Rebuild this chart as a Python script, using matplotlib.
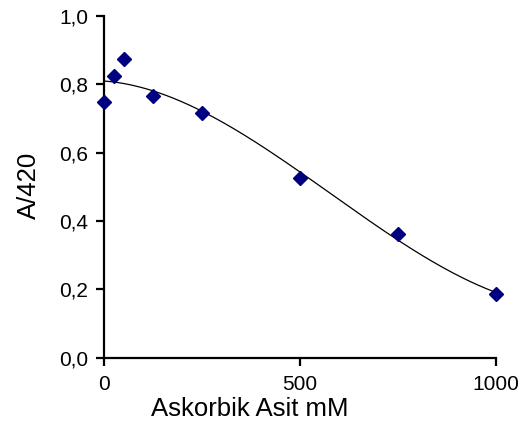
import numpy as np
import matplotlib
matplotlib.use("Agg")
import matplotlib.pyplot as plt
from matplotlib.ticker import FuncFormatter

plt.rcParams["font.family"] = ["Liberation Sans", "DejaVu Sans"]

# measured points
conc = [0, 25, 50, 125, 250, 500, 750, 1000]
absorb = [0.748, 0.824, 0.873, 0.766, 0.715, 0.527, 0.361, 0.186]

x_ticks = [0, 500, 1000]
y_ticks = [0.0, 0.2, 0.4, 0.6, 0.8, 1.0]

# trendline (3rd order polynomial, like the spreadsheet one)
coef = np.polyfit(conc, absorb, 3)
xs = np.linspace(0, 1000, 200)
ys = np.polyval(coef, xs)

fig = plt.figure(figsize=(5.32, 4.26), dpi=100)
ax = fig.add_axes([0.1955, 0.1603, 0.7368, 0.8021])

ax.plot(xs, ys, color="black", lw=0.9)
ax.plot(conc, absorb, ls="none", marker="D", ms=7, color="#000080", clip_on=False, zorder=3)

ax.set_xlim(0, 1000)
ax.set_ylim(0, 1.0)
ax.set_xticks(x_ticks)
ax.set_yticks(y_ticks)
ax.yaxis.set_major_formatter(FuncFormatter(lambda v, p: f"{v:.1f}".replace(".", ",")))

for s in ["top", "right"]:
    ax.spines[s].set_visible(False)
for s in ["left", "bottom"]:
    ax.spines[s].set_linewidth(1.6)
ax.tick_params(direction="out", length=5.5, width=1.6, labelsize=15)
ax.tick_params(axis="x", pad=7)
ax.tick_params(axis="y", pad=6)

ax.set_xlabel("Askorbik Asit mM", fontsize=18.5)
ax.xaxis.set_label_coords(0.372, -0.115)
ax.set_ylabel("A/420", fontsize=18.5)
ax.yaxis.set_label_coords(-0.162, 0.505)

fig.savefig("out.png", dpi=100)
